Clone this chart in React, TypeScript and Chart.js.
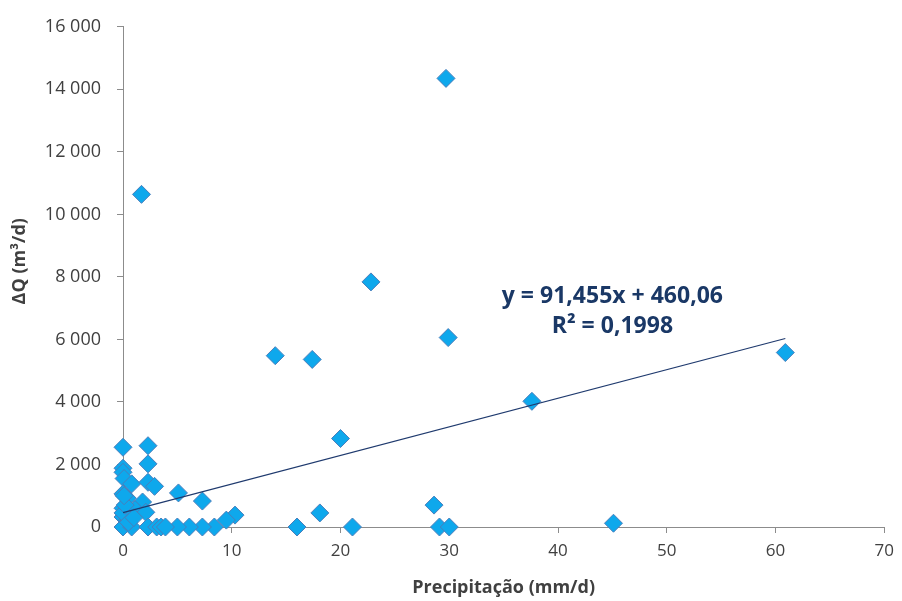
import React, { useEffect, useRef } from "react";
import { Chart, registerables } from "chart.js";

Chart.register(...registerables);

// Precipitation (mm/d) for each observation
const precipitation = [
  29.7, 1.7, 22.8, 14.0, 17.4, 29.9, 60.9, 37.6, 20.0, 18.1, 28.6, 45.1, 16.0, 21.1, 29.1, 30.0,
  10.3, 9.5, 8.4, 7.3, 7.3, 6.1, 5.1, 5.0,
  0, 2.3, 0, 2.3, 0, 0.1, 0.8, 2.3, 2.9, 0, 0.4, 1.8, 0, 1.1, 2.1, 0, 0.4, 0, 0.8, 2.3, 3.1, 3.5, 3.9, 0, 0.2, 0.5, 1.0, 0.1,
];
// ΔQ (m³/d) for each observation
const deltaQ = [
  14350, 10640, 7840, 5480, 5360, 6060, 5580, 4020, 2830, 450, 700, 120, 0, 0, 0, 0,
  380, 220, 0, 830, 0, 0, 1090, 0,
  2550, 2600, 1880, 2020, 1750, 1550, 1380, 1430, 1300, 1060, 920, 800, 600, 560, 470, 320, 220, 0, 0, 0, 0, 0, 0, 450, 700, 150, 300, 1000,
];

const trendSlope = 91.455;
const trendIntercept = 460.06;
const equationLines = ["y = 91,455x + 460,06", "R² = 0,1998"];
const yAxisTitle = "ΔQ (m³/d)";
const xAxisTitle = "Precipitação (mm/d)";

const FONT = "'Open Sans', 'Noto Sans', sans-serif";
const TEXT = "#404040";
const AXIS = "#8c8c8c";

function fmt(v: number): string {
  const s = Math.round(v).toString();
  return s.replace(/\B(?=(\d{3})+(?!\d))/g, " ");
}

export default function App() {
  const ref = useRef<HTMLCanvasElement | null>(null);

  useEffect(() => {
    if (!ref.current) return;
    const points = precipitation.map((x, i) => ({ x, y: deltaQ[i] }));
    const xMax = Math.max(...precipitation);
    const trend = [
      { x: 0, y: trendIntercept },
      { x: xMax, y: trendIntercept + trendSlope * xMax },
    ];

    const textPlugin = {
      id: "texts",
      afterDatasetsDraw(chart: any) {
        const ctx = chart.ctx;
        const xs = chart.scales.x;
        const ys = chart.scales.y;
        ctx.save();
        // equation label
        ctx.fillStyle = "#1A3866";
        ctx.font = `bold 23px ${FONT}`;
        ctx.textAlign = "center";
        ctx.textBaseline = "middle";
        const cx = xs.getPixelForValue(45.0);
        ctx.fillText(equationLines[0], cx, ys.getPixelForValue(7360));
        ctx.fillText(equationLines[1], cx, ys.getPixelForValue(6400));
        // y axis title
        ctx.fillStyle = TEXT;
        ctx.font = `bold 18px ${FONT}`;
        ctx.translate(20, ys.getPixelForValue(8500));
        ctx.rotate(-Math.PI / 2);
        ctx.fillText(yAxisTitle, 0, 0);
        ctx.restore();
      },
    };

    const chart = new Chart(ref.current, {
      type: "scatter",
      data: {
        datasets: [
          {
            type: "line",
            data: trend,
            borderColor: "#1F3A6E",
            borderWidth: 1.2,
            pointRadius: 0,
            fill: false,
            order: 0,
            clip: false,
          } as any,
          {
            data: points,
            pointStyle: "rectRot",
            pointRadius: 9,
            pointHoverRadius: 9,
            backgroundColor: "#0EA8EC",
            borderColor: "#4A7EBB",
            borderWidth: 1,
            order: 1,
            clip: false,
          } as any,
        ],
      },
      options: {
        responsive: false,
        animation: false,
        layout: { padding: { top: 25, right: 17, left: 0, bottom: 0 } },
        plugins: {
          legend: { display: false },
          tooltip: { enabled: false },
        },
        scales: {
          x: {
            type: "linear",
            min: 0,
            max: 70,
            ticks: {
              stepSize: 10,
              color: TEXT,
              font: { family: FONT, size: 17 },
              padding: 8,
            },
            grid: {
              display: true,
              drawOnChartArea: false,
              drawTicks: true,
              tickLength: 6,
              color: AXIS,
            },
            border: { display: true, color: AXIS, width: 1 },
            title: {
              display: true,
              text: xAxisTitle,
              color: TEXT,
              font: { family: FONT, size: 18, weight: "bold" },
              padding: { top: 0, bottom: 2 },
            },
            afterFit(scale: any) {
              scale.height = 74;
            },
          },
          y: {
            type: "linear",
            min: 0,
            max: 16000,
            ticks: {
              stepSize: 2000,
              color: TEXT,
              font: { family: FONT, size: 18 },
              padding: 16,
              callback: (v: any) => fmt(Number(v)),
            },
            grid: {
              display: true,
              drawOnChartArea: false,
              drawTicks: true,
              tickLength: 6,
              color: AXIS,
            },
            border: { display: true, color: AXIS, width: 1 },
            afterFit(scale: any) {
              scale.width = 123;
            },
          },
        },
      },
      plugins: [textPlugin],
    });
    return () => chart.destroy();
  }, []);

  return (
    <div style={{ position: "fixed", left: 0, top: 0, width: 902, height: 601, background: "#fff" }}>
      <canvas ref={ref} width={902} height={601} style={{ display: "block" }} />
    </div>
  );
}
